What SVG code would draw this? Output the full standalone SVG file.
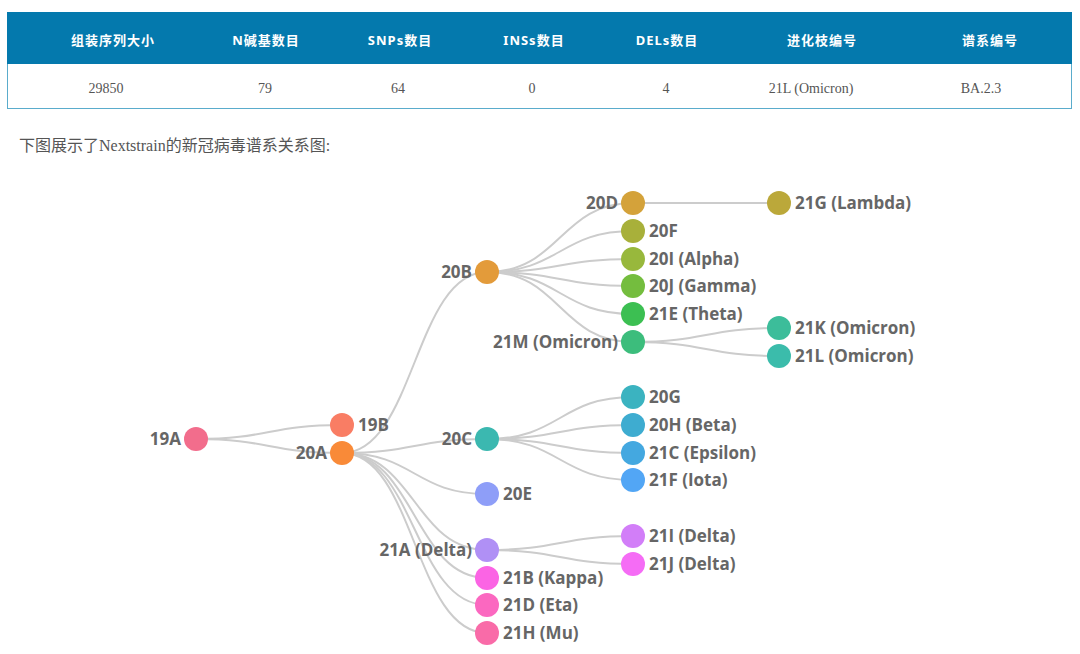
<svg xmlns="http://www.w3.org/2000/svg" width="1080" height="654" viewBox="0 0 1080 654">
<style>
.th{font-family:"Noto Sans","Noto Sans CJK SC",sans-serif;font-weight:bold;font-size:13px;fill:#fff;text-anchor:middle;letter-spacing:1px}
.td{font-family:"Liberation Serif","Noto Sans CJK SC",serif;font-size:14px;fill:#555;text-anchor:middle}
.cap{font-family:"Liberation Serif","Noto Sans CJK SC",serif;font-size:16px;fill:#555}
.lk{fill:none;stroke:#cccccc;stroke-width:2}
.lb{font-family:"Open Sans","Noto Sans",sans-serif;font-weight:bold;font-size:17px;fill:#666}
.r{text-anchor:start}
.l{text-anchor:end}
</style>
<rect width="1080" height="654" fill="#fff"/>
<g id="table">
<rect x="7.5" y="12.5" width="1064" height="96" fill="#fff" stroke="#5aaccc" stroke-width="1"/>
<rect x="7" y="12" width="1065" height="52" fill="#0479ad"/>
<text class="th" x="113" y="45">组装序列大小</text>
<text class="th" x="266" y="45">N碱基数目</text>
<text class="th" x="400" y="45">SNPs数目</text>
<text class="th" x="534" y="45">INSs数目</text>
<text class="th" x="667" y="45">DELs数目</text>
<text class="th" x="822" y="45">进化枝编号</text>
<text class="th" x="990" y="45">谱系编号</text>
<text class="td" x="106" y="93">29850</text>
<text class="td" x="265" y="93">79</text>
<text class="td" x="398" y="93">64</text>
<text class="td" x="532" y="93">0</text>
<text class="td" x="666" y="93">4</text>
<text class="td" x="811" y="93">21L (Omicron)</text>
<text class="td" x="981" y="93">BA.2.3</text>
</g>
<text class="cap" x="19" y="151">下图展示了Nextstrain的新冠病毒谱系关系图:</text>
<g id="links">
<path class="lk" d="M196,439 C269,439 269,425 342,425"/>
<path class="lk" d="M196,439 C269,439 269,453 342,453"/>
<path class="lk" d="M342,453 C414.5,453 414.5,272 487,272"/>
<path class="lk" d="M342,453 C414.5,453 414.5,439 487,439"/>
<path class="lk" d="M342,453 C414.5,453 414.5,494 487,494"/>
<path class="lk" d="M342,453 C414.5,453 414.5,550 487,550"/>
<path class="lk" d="M342,453 C414.5,453 414.5,578 487,578"/>
<path class="lk" d="M342,453 C414.5,453 414.5,605 487,605"/>
<path class="lk" d="M342,453 C414.5,453 414.5,633 487,633"/>
<path class="lk" d="M487,272 C560,272 560,203 633,203"/>
<path class="lk" d="M487,272 C560,272 560,231 633,231"/>
<path class="lk" d="M487,272 C560,272 560,259 633,259"/>
<path class="lk" d="M487,272 C560,272 560,286 633,286"/>
<path class="lk" d="M487,272 C560,272 560,314 633,314"/>
<path class="lk" d="M487,272 C560,272 560,342 633,342"/>
<path class="lk" d="M633,203 C706,203 706,203 779,203"/>
<path class="lk" d="M633,342 C706,342 706,328 779,328"/>
<path class="lk" d="M633,342 C706,342 706,356 779,356"/>
<path class="lk" d="M487,439 C560,439 560,397 633,397"/>
<path class="lk" d="M487,439 C560,439 560,425 633,425"/>
<path class="lk" d="M487,439 C560,439 560,453 633,453"/>
<path class="lk" d="M487,439 C560,439 560,480 633,480"/>
<path class="lk" d="M487,550 C560,550 560,536 633,536"/>
<path class="lk" d="M487,550 C560,550 560,564 633,564"/>
</g>
<g id="n19A"><circle cx="196" cy="439" r="12" fill="#f26d8c"/><text class="lb l" x="181" y="445">19A</text></g>
<g id="n19B"><circle cx="342" cy="425" r="12" fill="#f97d64"/><text class="lb r" x="358" y="431">19B</text></g>
<g id="n20A"><circle cx="342" cy="453" r="12" fill="#f98a38"/><text class="lb l" x="327" y="459">20A</text></g>
<g id="n20B"><circle cx="487" cy="272" r="12" fill="#e39b3a"/><text class="lb l" x="472" y="278">20B</text></g>
<g id="n20C"><circle cx="487" cy="439" r="12" fill="#3bb8b0"/><text class="lb l" x="472" y="445">20C</text></g>
<g id="n20E"><circle cx="487" cy="494" r="12" fill="#8e9ef8"/><text class="lb r" x="503" y="500">20E</text></g>
<g id="n21A"><circle cx="487" cy="550" r="12" fill="#b090f5"/><text class="lb l" x="472" y="556">21A (Delta)</text></g>
<g id="n21B"><circle cx="487" cy="578" r="12" fill="#fb64e4"/><text class="lb r" x="503" y="584">21B (Kappa)</text></g>
<g id="n21D"><circle cx="487" cy="605" r="12" fill="#fb68c0"/><text class="lb r" x="503" y="611">21D (Eta)</text></g>
<g id="n21H"><circle cx="487" cy="633" r="12" fill="#f96ba8"/><text class="lb r" x="503" y="639">21H (Mu)</text></g>
<g id="n20D"><circle cx="633" cy="203" r="12" fill="#d4a23a"/><text class="lb l" x="618" y="209">20D</text></g>
<g id="n20F"><circle cx="633" cy="231" r="12" fill="#a8b03a"/><text class="lb r" x="649" y="237">20F</text></g>
<g id="n20I"><circle cx="633" cy="259" r="12" fill="#98b83c"/><text class="lb r" x="649" y="265">20I (Alpha)</text></g>
<g id="n20J"><circle cx="633" cy="286" r="12" fill="#74bd3e"/><text class="lb r" x="649" y="292">20J (Gamma)</text></g>
<g id="n21E"><circle cx="633" cy="314" r="12" fill="#3cbf52"/><text class="lb r" x="649" y="320">21E (Theta)</text></g>
<g id="n21M"><circle cx="633" cy="342" r="12" fill="#3cbd7c"/><text class="lb l" x="618" y="348">21M (Omicron)</text></g>
<g id="n20G"><circle cx="633" cy="397" r="12" fill="#3bb3c0"/><text class="lb r" x="649" y="403">20G</text></g>
<g id="n20H"><circle cx="633" cy="425" r="12" fill="#3eacd0"/><text class="lb r" x="649" y="431">20H (Beta)</text></g>
<g id="n21C"><circle cx="633" cy="453" r="12" fill="#44a8e0"/><text class="lb r" x="649" y="459">21C (Epsilon)</text></g>
<g id="n21F"><circle cx="633" cy="480" r="12" fill="#52a6f5"/><text class="lb r" x="649" y="486">21F (Iota)</text></g>
<g id="n21I"><circle cx="633" cy="536" r="12" fill="#d27ef8"/><text class="lb r" x="649" y="542">21I (Delta)</text></g>
<g id="n21J"><circle cx="633" cy="564" r="12" fill="#f56cf5"/><text class="lb r" x="649" y="570">21J (Delta)</text></g>
<g id="n21G"><circle cx="779" cy="203" r="12" fill="#bba83a"/><text class="lb r" x="795" y="209">21G (Lambda)</text></g>
<g id="n21K"><circle cx="779" cy="328" r="12" fill="#3cbd9a"/><text class="lb r" x="795" y="334">21K (Omicron)</text></g>
<g id="n21L"><circle cx="779" cy="356" r="12" fill="#3bbcab"/><text class="lb r" x="795" y="362">21L (Omicron)</text></g>
</svg>
